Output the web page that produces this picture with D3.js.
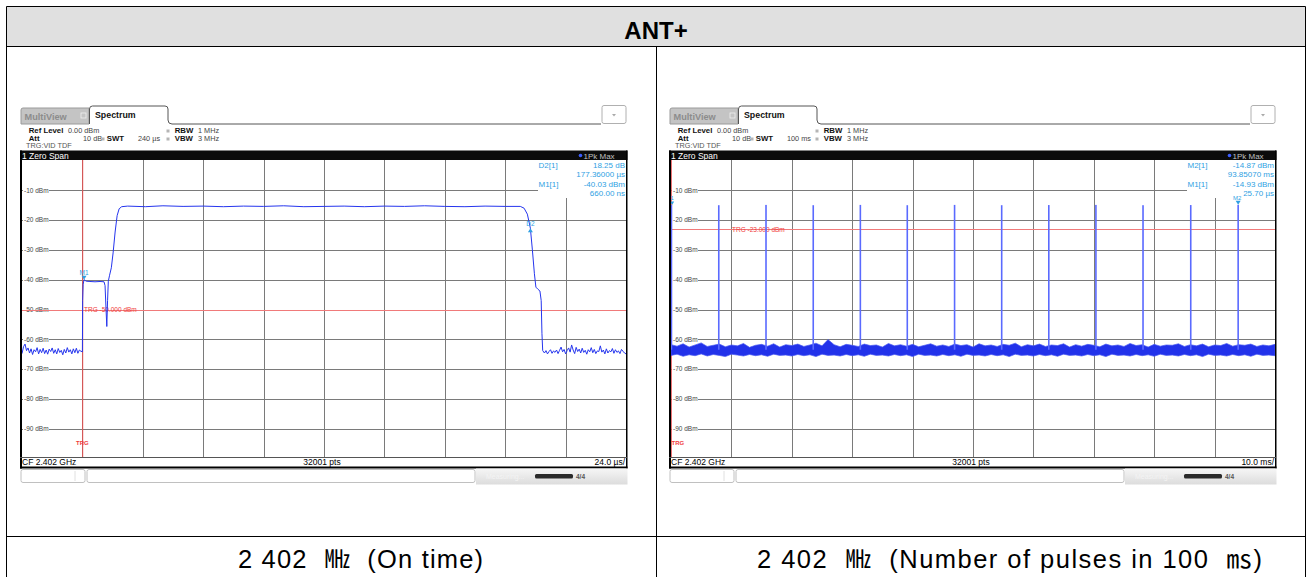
<!DOCTYPE html>
<html>
<head>
<meta charset="utf-8">
<script src="https://cdn.jsdelivr.net/npm/d3@7"></script>
<style>
body { margin: 0; background: #fff; }
svg { display: block; font-family: "Liberation Sans", Arial, sans-serif; }
.caption { white-space: pre; }
</style>
</head>
<body>
<div id="chart"></div>
<script>
// ---- values ----
const title = "ANT+";
const captions = ["2 402  \u3392  (On time)", "2 402  \u3392  (Number of pulses in 100  \u33B3)"];

const levelTicks = [-10, -20, -30, -40, -50, -60, -70, -80, -90];
const leftGridUs = [0, 24, 48, 72, 96, 120, 144, 168, 192];
const rightGridMs = [10, 20, 30, 40, 50, 60, 70, 80, 90];

// left: burst, time in µs relative to trigger, level in dBm
const leftBurst = [
  [0.0, -64.2], [0.1, -47], [0.3, -41.5], [0.66, -40.0], [1.5, -40.5], [3, -40.6], [5, -40.7],
  [7, -40.6], [8.6, -40.7], [9.0, -42], [9.4, -50], [9.7, -55.7], [10.0, -47], [10.3, -40.5],
  [10.8, -38.5], [11.5, -36], [12.2, -31], [13.0, -24], [13.8, -18.5], [14.6, -16.2], [15.6, -15.5],
  [18, -15.3], [25, -15.5], [32, -15.2], [40, -15.4], [48, -15.3], [56, -15.5], [64, -15.3],
  [72, -15.4], [80, -15.2], [88, -15.5], [96, -15.4], [104, -15.3], [112, -15.5], [120, -15.3],
  [128, -15.4], [136, -15.2], [144, -15.4], [152, -15.5], [160, -15.3], [168, -15.4], [174, -15.4],
  [175.5, -16.0], [176.8, -18], [178.0, -22.7], [178.8, -30], [179.6, -38], [180.2, -42.5],
  [181.0, -43.2], [181.8, -43.8], [182.3, -47], [182.6, -58], [182.9, -63.8]
];
// noise before trigger: -24 µs .. 0, one sample every 0.6 µs
const leftPreNoise = [
  -64.8, -62.5, -61.6, -63.8, -62.9, -64.6, -63.2, -65.1, -63.5, -64.2,
  -62.8, -64.9, -63.4, -64.5, -63.0, -64.8, -63.6, -65.0, -63.3, -64.1,
  -62.9, -64.7, -63.5, -64.9, -63.1, -64.4, -63.7, -65.2, -63.4, -64.6,
  -62.8, -64.3, -63.5, -64.9, -63.2, -64.5, -63.0, -64.7, -63.6, -64.0
];
// noise after the burst: 183 µs .. 216 µs, one sample every 0.6 µs
const leftPostNoise = [
  -63.9, -64.6, -63.8, -64.9, -64.1, -63.5, -64.7, -63.9, -64.4, -63.6,
  -64.8, -63.7, -62.6, -64.2, -63.4, -64.9, -63.8, -62.9, -64.3, -61.9,
  -63.6, -64.8, -62.7, -64.1, -63.3, -64.6, -63.0, -64.4, -63.7, -65.0,
  -63.5, -64.2, -62.8, -64.5, -63.4, -64.8, -63.9, -64.1, -62.2, -64.3,
  -63.6, -64.9, -63.2, -64.6, -63.8, -64.2, -63.1, -64.7, -63.5, -64.4,
  -63.9, -64.8, -63.4, -64.0, -64.6, -64.9
];

// right: pulses, time in ms after trigger, peak in dBm
const rightPulseMs = [0.026, 7.86, 15.68, 23.5, 31.3, 39.07, 46.9, 54.7, 62.5, 70.3, 78.1, 86.0, 93.85];
const rightPulseDbm = [-14.93, -15.0, -14.9, -15.0, -14.9, -15.0, -14.9, -15.0, -14.95, -14.9, -15.0, -14.95, -14.87];
// noise band envelope, one value per ms from 0 to 100 ms
const rightNoiseHi = [
  -61.8, -62.3, -61.5, -62.6, -61.9, -61.2, -62.4, -62.0, -61.6, -62.5,
  -61.9, -62.2, -61.4, -62.7, -62.0, -61.7, -62.3, -61.5, -62.6, -61.8,
  -62.1, -61.6, -62.4, -61.9, -61.3, -62.2, -60.1, -61.8, -62.5, -61.7,
  -62.0, -62.4, -61.6, -62.1, -61.9, -62.6, -61.4, -62.2, -61.8, -62.3,
  -61.7, -62.5, -62.0, -61.5, -62.3, -61.9, -62.4, -61.6, -62.1, -61.8,
  -62.6, -61.5, -62.2, -61.9, -62.4, -61.7, -62.0, -61.3, -62.5, -61.8,
  -62.2, -61.6, -62.4, -61.9, -62.1, -61.5, -62.6, -61.8, -62.3, -61.7,
  -62.0, -62.5, -61.6, -62.2, -61.9, -62.4, -61.4, -62.1, -61.8, -62.6,
  -61.7, -62.3, -61.9, -62.0, -61.5, -62.4, -61.8, -62.2, -61.6, -62.5,
  -61.9, -62.1, -61.4, -62.3, -61.8, -62.0, -61.6, -62.4, -61.9, -62.2, -61.7
];
const rightNoiseLo = [
  -65.4, -65.0, -65.7, -65.2, -65.5, -64.9, -65.6, -65.1, -65.4, -65.8,
  -65.0, -65.3, -65.6, -65.1, -65.5, -65.2, -65.7, -65.0, -65.4, -65.3,
  -65.6, -65.1, -65.5, -65.2, -65.8, -65.0, -65.4, -65.3, -65.6, -65.1,
  -65.5, -65.2, -65.7, -65.0, -65.4, -65.3, -65.6, -65.1, -65.5, -65.2,
  -65.8, -65.0, -65.4, -65.3, -65.6, -65.1, -65.5, -65.2, -65.7, -65.0,
  -65.4, -65.3, -65.6, -65.1, -65.5, -65.2, -65.8, -65.0, -65.4, -65.3,
  -65.6, -65.1, -65.5, -65.2, -65.7, -65.0, -65.4, -65.3, -65.6, -65.1,
  -65.5, -65.2, -65.8, -65.0, -65.4, -65.3, -65.6, -65.1, -65.5, -65.2,
  -65.7, -65.0, -65.4, -65.3, -65.6, -65.1, -65.5, -65.2, -65.8, -65.0,
  -65.4, -65.3, -65.6, -65.1, -65.5, -65.2, -65.7, -65.0, -65.4, -65.3, -65.5
];

const markerBlue = "#2f9fe3";
const traceBlue = "#2535ee";
const red = "#f03c3c";

const svg = d3.select("#chart").append("svg")
    .attr("width", 1308)
    .attr("height", 577);

// ---- the surrounding table ----
svg.append("rect").attr("x", 6.5).attr("y", 6.5).attr("width", 1299).attr("height", 40).attr("fill", "#e0e0e0");
const tableLines = [
  [6.5, 6.5, 1305.5, 6.5], [6.5, 6.5, 6.5, 577], [1305.5, 6.5, 1305.5, 577],
  [6.5, 46.5, 1305.5, 46.5], [656.5, 46.5, 656.5, 577], [6.5, 536.5, 1305.5, 536.5]
];
svg.selectAll(".tline").data(tableLines).enter().append("line")
    .attr("x1", d => d[0]).attr("y1", d => d[1]).attr("x2", d => d[2]).attr("y2", d => d[3])
    .attr("stroke", "#000").attr("stroke-width", 1);

svg.append("text").attr("x", 656).attr("y", 39).attr("text-anchor", "middle")
    .attr("font-size", 24).attr("font-weight", "bold").text(title);

const captionBox = [{ cx: 360.5, w: 245 }, { cx: 1009.5, w: 505 }];
svg.selectAll(".caption").data(captions).enter().append("text")
    .attr("class", "caption")
    .attr("x", (d, i) => captionBox[i].cx)
    .attr("y", 568)
    .attr("text-anchor", "middle")
    .attr("font-size", 25.5)
    .attr("textLength", (d, i) => captionBox[i].w)
    .attr("lengthAdjust", "spacing")
    .attr("font-family", "'Liberation Sans', 'Noto Sans CJK KR', sans-serif")
    .text(d => d);

// ---- one analyzer screenshot ----
function drawPanel(ox, cfg) {
    const g = svg.append("g");
    const plotL = ox + 2, plotR = ox + 606, plotT = 160, plotB = 457;

    // tabs
    g.append("path")
        .attr("d", `M${ox + 1},124 V110 Q${ox + 1},108 ${ox + 3},108 H${ox + 69} V124 Z`)
        .attr("fill", "#c4c4c4").attr("stroke", "#9a9a9a");
    g.append("text").attr("x", ox + 4.5).attr("y", 119.5).attr("font-size", 9.2).attr("font-weight", "bold")
        .attr("fill", "#8c8c8c").text("MultiView");
    g.append("rect").attr("x", ox + 61).attr("y", 113).attr("width", 5).attr("height", 5)
        .attr("fill", "none").attr("stroke", "#f0f0f0").attr("stroke-width", 0.8);
    g.append("path")
        .attr("d", `M${ox + 69.5},124 V109 Q${ox + 69.5},106 ${ox + 72.5},106 H${ox + 145} Q${ox + 148},106 ${ox + 148},109 V120 Q${ox + 148},124 ${ox + 152},124 H${ox + 581}`)
        .attr("fill", "#fff").attr("stroke", "#555").attr("stroke-width", 1);
    g.append("text").attr("x", ox + 75).attr("y", 118).attr("font-size", 8.8).attr("font-weight", "bold")
        .attr("fill", "#111").text("Spectrum");
    g.append("rect").attr("x", ox + 582).attr("y", 105.5).attr("width", 24).attr("height", 18).attr("rx", 2)
        .attr("fill", "#fff").attr("stroke", "#b0b0b0");
    g.append("path").attr("d", `M${ox + 592},114 h4 l-2,2.5 z`).attr("fill", "#aaa");

    // settings block
    const info = [
        { x: 8.7, y: 132.5, t: "Ref Level", b: true }, { x: 48, y: 132.5, t: "0.00 dBm" },
        { x: 8.7, y: 140.5, t: "Att", b: true }, { x: 63, y: 140.5, t: "10 dB" },
        { x: 86.8, y: 140.5, t: "SWT", b: true }, { x: 118, y: 140.5, t: cfg.swt },
        { x: 154.7, y: 132.5, t: "RBW", b: true }, { x: 178, y: 132.5, t: "1 MHz" },
        { x: 154.7, y: 140.5, t: "VBW", b: true }, { x: 178, y: 140.5, t: "3 MHz" },
        { x: 6, y: 148, t: "TRG:VID TDF", c: "#555" }
    ];
    g.selectAll(".info").data(info).enter().append("text")
        .attr("x", d => ox + d.x).attr("y", d => d.y)
        .attr("font-size", d => d.b ? 7.8 : 7.3)
        .attr("font-weight", d => d.b ? "bold" : "normal")
        .attr("fill", d => d.c || (d.b ? "#111" : "#444"))
        .text(d => d.t);
    g.selectAll(".dot").data([[81.5, 137.5], [146.5, 137.5], [146.5, 129.5]]).enter().append("rect")
        .attr("x", d => ox + d[0]).attr("y", d => d[1]).attr("width", 3).attr("height", 3).attr("fill", "#b5b5b5");

    // title bar
    g.append("rect").attr("x", ox).attr("y", 150.5).attr("width", 607.5).attr("height", 9.5).attr("fill", "#0b0b0b");
    g.append("text").attr("x", ox + 2).attr("y", 158.5).attr("font-size", 8.5).attr("fill", "#fff").text("1 Zero Span");
    g.append("circle").attr("cx", ox + 560.5).attr("cy", 155.5).attr("r", 1.8).attr("fill", "#3a5cff");
    g.append("text").attr("x", ox + 563.5).attr("y", 158.5).attr("font-size", 8).attr("fill", "#c0c0c0").text("1Pk Max");

    // plot
    g.append("rect").attr("x", plotL).attr("y", plotT).attr("width", plotR - plotL).attr("height", plotB - plotT).attr("fill", "#fff");

    const x = d3.scaleLinear().domain(cfg.xDomain).range([plotL, plotR]);
    const y = d3.scaleLinear().domain([-100, 0]).range([458.5, 160.5]);

    const clipId = "clip" + ox;
    svg.append("clipPath").attr("id", clipId).append("rect")
        .attr("x", plotL).attr("y", plotT).attr("width", plotR - plotL).attr("height", plotB - plotT);

    const grid = g.append("g").attr("clip-path", `url(#${clipId})`);
    grid.append("g")
        .attr("transform", `translate(0,${plotB})`)
        .call(d3.axisBottom(x).tickValues(cfg.gridTicks).tickSize(-(plotB - plotT)).tickFormat(""))
        .call(a => a.select(".domain").remove())
        .call(a => a.selectAll("line").attr("stroke", "#7a7a7a").attr("shape-rendering", "crispEdges"));
    grid.append("g")
        .attr("transform", `translate(${plotL},0)`)
        .call(d3.axisRight(y).tickValues(levelTicks).tickSize(plotR - plotL).tickFormat(""))
        .call(a => a.select(".domain").remove())
        .call(a => a.selectAll("line").attr("stroke", "#7a7a7a").attr("shape-rendering", "crispEdges"));

    // level labels sit on the grid lines
    const lab = g.selectAll(".lvl").data(levelTicks).enter().append("g");
    lab.append("rect").attr("x", plotL + 1).attr("y", d => y(d) - 3.5).attr("width", 26).attr("height", 7).attr("fill", "#fff");
    lab.append("text").attr("x", plotL + 2).attr("y", d => y(d) + 2.2)
        .attr("font-size", 6.5).attr("fill", "#444").text(d => d + " dBm");

    // marker table box
    g.append("rect").attr("x", ox + 518).attr("y", plotT).attr("width", 88).attr("height", 38).attr("fill", "#fff");
    const rowsY = [167.5, 177, 186.5, 196];
    g.selectAll(".mlab").data(cfg.markerLabels).enter().append("text")
        .attr("x", ox + 518.5).attr("y", (d, i) => rowsY[i * 2])
        .attr("font-size", 8).attr("fill", markerBlue).text(d => d);
    g.selectAll(".mval").data(cfg.markerValues).enter().append("text")
        .attr("x", ox + 605).attr("y", (d, i) => rowsY[i])
        .attr("text-anchor", "end").attr("font-size", 8).attr("fill", markerBlue).text(d => d);

    // trigger level
    const trg = g.append("g").attr("clip-path", `url(#${clipId})`);
    trg.append("line").attr("x1", plotL).attr("x2", plotR).attr("y1", Math.round(y(cfg.trgLevel)) + 0.5).attr("y2", Math.round(y(cfg.trgLevel)) + 0.5)
        .attr("stroke", "#f07a7a").attr("stroke-width", 1);
    trg.append("line").attr("x1", x(0) + 0.3).attr("x2", x(0) + 0.3).attr("y1", plotT).attr("y2", plotB)
        .attr("stroke", "#e85050").attr("stroke-width", 1);
    g.append("text").attr("x", ox + cfg.trgLabelX).attr("y", y(cfg.trgLevel) + 2.5)
        .attr("font-size", 6.5).attr("fill", red)
        .text("TRG  " + cfg.trgLevel.toFixed(3) + " dBm");
    g.append("text").attr("x", x(0) + cfg.trgTagDx).attr("y", 445)
        .attr("text-anchor", cfg.trgTagDx === 0 ? "middle" : "start")
        .attr("font-size", 6).attr("font-weight", "bold").attr("fill", red).text("TRG");

    const traces = g.append("g").attr("clip-path", `url(#${clipId})`);
    cfg.drawTrace(traces, x, y);

    // frame and bottom bar
    g.append("rect").attr("x", ox).attr("y", 150.5).attr("width", 2).attr("height", 318).attr("fill", "#000");
    g.append("rect").attr("x", ox + 606).attr("y", 150.5).attr("width", 1.5).attr("height", 318).attr("fill", "#000");
    g.append("line").attr("x1", ox).attr("x2", ox + 607).attr("y1", 457.5).attr("y2", 457.5).attr("stroke", "#555");
    g.append("rect").attr("x", ox).attr("y", 466.5).attr("width", 607.5).attr("height", 2).attr("fill", "#000");
    g.append("text").attr("x", ox + 2).attr("y", 465).attr("font-size", 8.5).attr("fill", "#000").text("CF 2.402 GHz");
    g.append("text").attr("x", ox + 302).attr("y", 465).attr("text-anchor", "middle").attr("font-size", 8.5).text("32001 pts");
    g.append("text").attr("x", ox + 605).attr("y", 465).attr("text-anchor", "end").attr("font-size", 8.5).text(cfg.perDiv);

    // status row
    g.append("rect").attr("x", ox + 1).attr("y", 469.5).attr("width", 64).attr("height", 13).attr("rx", 2)
        .attr("fill", "#fff").attr("stroke", "#c0c0c0");
    g.append("line").attr("x1", ox + 55).attr("x2", ox + 55).attr("y1", 471).attr("y2", 481).attr("stroke", "#e0e0e0");
    g.append("rect").attr("x", ox + 67).attr("y", 469.5).attr("width", 388).attr("height", 13).attr("rx", 2)
        .attr("fill", "#fff").attr("stroke", "#c0c0c0");
    const grad = svg.append("defs").append("linearGradient").attr("id", "sg" + ox)
        .attr("x1", 0).attr("y1", 0).attr("x2", 0).attr("y2", 1);
    grad.append("stop").attr("offset", 0).attr("stop-color", "#f6f6f6");
    grad.append("stop").attr("offset", 1).attr("stop-color", "#dcdcdc");
    g.append("rect").attr("x", ox + 456).attr("y", 468.5).attr("width", 151.5).attr("height", 16).attr("fill", `url(#sg${ox})`);
    g.append("text").attr("x", ox + 466).attr("y", 478.5).attr("font-size", 7).attr("fill", "#f4f4f4").text("Measuring...");
    g.append("rect").attr("x", ox + 515).attr("y", 474).attr("width", 38).attr("height", 4.5).attr("rx", 1.5).attr("fill", "#2a2a2a");
    g.append("text").attr("x", ox + 556).attr("y", 478.5).attr("font-size", 6.5).attr("font-weight", "bold").attr("fill", "#555").text("4/4");
}

// left: on time
drawPanel(20, {
    swt: "240 \u00b5s",
    perDiv: "24.0 \u00b5s/",
    xDomain: [-24, 216],
    gridTicks: leftGridUs,
    trgLevel: -50,
    trgLabelX: 64,
    trgTagDx: 0,
    markerLabels: ["D2[1]", "M1[1]"],
    markerValues: ["18.25 dB", "177.36000 \u00b5s", "-40.03 dBm", "660.00 ns"],
    drawTrace(t, x, y) {
        const pre = leftPreNoise.map((v, i) => [-24 + i * 0.6, v]);
        const post = leftPostNoise.map((v, i) => [183 + i * 0.6, v]);
        const pts = pre.concat(leftBurst, post);
        t.append("path").datum(pts)
            .attr("d", d3.line().x(d => x(d[0])).y(d => y(d[1])))
            .attr("fill", "none").attr("stroke", traceBlue).attr("stroke-width", 1);
        // M1 at 0.66 µs / -40.03 dBm, D2 at 178.02 µs
        const m1x = x(0.66), m1y = y(-40.03);
        t.append("path").attr("d", `M${m1x - 2.5},${m1y - 4} h5 l-2.5,4 z`).attr("fill", markerBlue);
        t.append("text").attr("x", m1x).attr("y", m1y - 5).attr("text-anchor", "middle")
            .attr("font-size", 6.5).attr("fill", markerBlue).text("M1");
        const d2x = x(178.02), d2y = y(-22.7);
        t.append("path").attr("d", `M${d2x - 2.5},${d2y + 4} h5 l-2.5,-4 z`).attr("fill", markerBlue);
        t.append("text").attr("x", d2x).attr("y", d2y - 2).attr("text-anchor", "middle")
            .attr("font-size", 6.5).attr("fill", markerBlue).text("D2");
    }
});

// right: number of pulses in 100 ms
drawPanel(669, {
    swt: "100 ms",
    perDiv: "10.0 ms/",
    xDomain: [0, 100],
    gridTicks: rightGridMs,
    trgLevel: -23,
    trgLabelX: 63,
    trgTagDx: 0.5,
    markerLabels: ["M2[1]", "M1[1]"],
    markerValues: ["-14.87 dBm", "93.85070 ms", "-14.93 dBm", "25.70 \u00b5s"],
    drawTrace(t, x, y) {
        t.append("path").datum(rightNoiseHi.map((v, i) => [i, v, rightNoiseLo[i]]))
            .attr("d", d3.area().x(d => x(d[0])).y0(d => y(d[2])).y1(d => y(d[1])))
            .attr("fill", "#2232ea").attr("stroke", "#4a5af2").attr("stroke-width", 0.7);
        t.selectAll(".pulse").data(rightPulseMs).enter().append("rect")
            .attr("x", d => x(d) - 0.5)
            .attr("width", 1.6)
            .attr("y", (d, i) => y(rightPulseDbm[i]))
            .attr("height", (d, i) => y(-63.5) - y(rightPulseDbm[i]))
            .attr("fill", "#5a6aff");
        const last = rightPulseMs.length - 1;
        const m2x = x(rightPulseMs[last]) + 0.3, m2y = y(rightPulseDbm[last]);
        t.append("path").attr("d", `M${m2x - 2.5},${m2y - 4} h5 l-2.5,4 z`).attr("fill", markerBlue);
        t.append("text").attr("x", m2x - 1).attr("y", m2y - 5).attr("text-anchor", "middle")
            .attr("font-size", 6).attr("fill", markerBlue).text("M2");
        const m1x = x(rightPulseMs[0]) + 1, m1y = y(rightPulseDbm[0]);
        t.append("path").attr("d", `M${m1x - 2},${m1y - 3.5} h4 l-2,3.5 z`).attr("fill", markerBlue);
        t.append("text").attr("x", m1x).attr("y", m1y - 5).attr("text-anchor", "middle")
            .attr("font-size", 6).attr("fill", markerBlue).text("1");
    }
});
</script>
</body>
</html>
